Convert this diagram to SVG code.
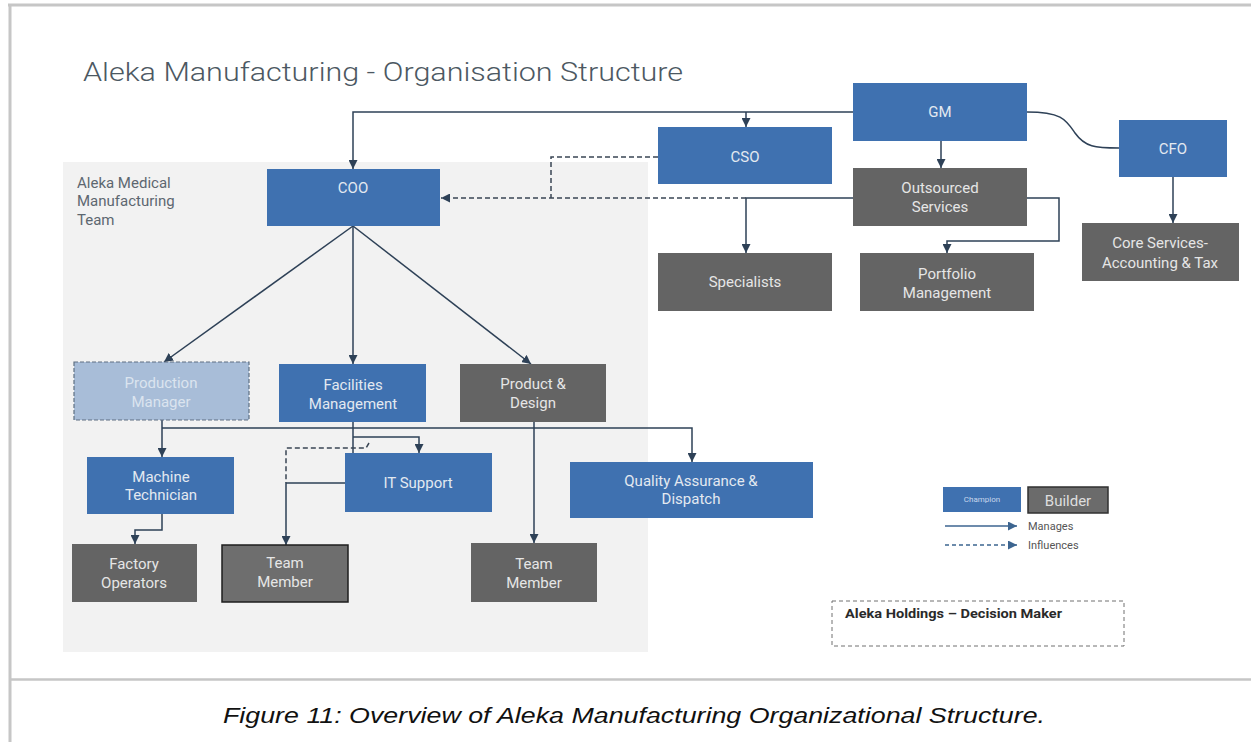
<svg xmlns="http://www.w3.org/2000/svg" width="1251" height="742" viewBox="0 0 1251 742">
<style>
.blue{fill:#3f71b0}
.gray{fill:#646464}
.t{font-family:Roboto,"Liberation Sans",sans-serif;font-size:15px;text-anchor:middle;fill:#e3e9f0}
.tg{font-family:Roboto,"Liberation Sans",sans-serif;font-size:15px;text-anchor:middle;fill:#e6e6e6}
.c{fill:none;stroke:#2e4157;stroke-width:1.5}
.d{fill:none;stroke:#3a4654;stroke-width:1.5;stroke-dasharray:5 3}
.frame{stroke:#c6c6c6;fill:none}
</style>
<defs>
<marker id="ah" viewBox="0 0 10 10" refX="10" refY="5" markerWidth="9" markerHeight="9" markerUnits="userSpaceOnUse" orient="auto">
<path d="M0,0 L10,5 L0,10 z" fill="#2e4157"/>
</marker>
<marker id="ahl" viewBox="0 0 10 10" refX="10" refY="5" markerWidth="10" markerHeight="9" markerUnits="userSpaceOnUse" orient="auto">
<path d="M0,0 L10,5 L0,10 z" fill="#3d6590"/>
</marker>
</defs>
<rect x="0" y="0" width="1251" height="742" fill="#ffffff"/>
<line class="frame" x1="8" y1="5" x2="1251" y2="5" stroke-width="3"/>
<line class="frame" x1="10" y1="5" x2="10" y2="742" stroke-width="3"/>
<line class="frame" x1="10" y1="679.5" x2="1251" y2="679.5" stroke-width="2.5"/>

<rect x="63" y="162" width="585" height="490" fill="#f2f2f2"/>

<text x="83" y="81" font-family="Roboto,'Liberation Sans',sans-serif" font-size="25" font-weight="300" fill="#4c5862" textLength="600" lengthAdjust="spacingAndGlyphs">Aleka Manufacturing  - Organisation Structure</text>

<g id="team-label" font-family="Roboto,'Liberation Sans',sans-serif" font-size="15" fill="#5d6770">
<text x="77" y="188">Aleka Medical</text>
<text x="77" y="206">Manufacturing</text>
<text x="77" y="225">Team</text>
</g>

<g id="connectors">
<path class="c" d="M853,112 H353 V169" marker-end="url(#ah)"/>
<path class="c" d="M746,112 V127" marker-end="url(#ah)"/>
<path class="c" d="M941,141 V168" marker-end="url(#ah)"/>
<path class="c" d="M1027,112 C1062,112 1066,120 1075,133 C1085,147 1095,148 1119,148"/>
<path class="c" d="M1173,177 V223" marker-end="url(#ah)"/>
<path class="c" d="M853,198 H746 V253" marker-end="url(#ah)"/>
<path class="c" d="M1027,198 H1059 V241 H947 V253" marker-end="url(#ah)"/>
<path class="d" d="M746,198 H441" marker-end="url(#ah)"/>
<path class="d" d="M658,157 H551 V198"/>
<path class="c" d="M353,226 L164,362" marker-end="url(#ah)"/>
<path class="c" d="M353,226 V364" marker-end="url(#ah)"/>
<path class="c" d="M353,226 L531,364" marker-end="url(#ah)"/>
<path class="c" d="M162,420 V457" marker-end="url(#ah)"/>
<path class="c" d="M162,428 H692 V462" marker-end="url(#ah)"/>
<path class="c" d="M162,514 V530 H135 V544" marker-end="url(#ah)"/>
<path class="c" d="M353,422 V453"/>
<path class="c" d="M353,437 H419 V453" marker-end="url(#ah)"/>
<path class="c" d="M345,483 H286 V545" marker-end="url(#ah)"/>
<path class="d" d="M369,443 L366,448 H286 V483"/>
<path class="c" d="M534,422 V543" marker-end="url(#ah)"/>
</g>

<g id="gm"><rect class="blue" x="853" y="83" width="174" height="58"/><text class="t" x="940" y="117">GM</text></g>
<g id="cso"><rect class="blue" x="658" y="127" width="174" height="57"/><text class="t" x="745" y="162">CSO</text></g>
<g id="cfo"><rect class="blue" x="1119" y="120" width="108" height="57"/><text class="t" x="1173" y="154">CFO</text></g>
<g id="outsourced"><rect class="gray" x="853" y="168" width="174" height="58"/><text class="tg" x="940" y="193">Outsourced</text><text class="tg" x="940" y="212">Services</text></g>
<g id="specialists"><rect class="gray" x="658" y="253" width="174" height="58"/><text class="tg" x="745" y="287">Specialists</text></g>
<g id="portfolio"><rect class="gray" x="860" y="253" width="174" height="58"/><text class="tg" x="947" y="279">Portfolio</text><text class="tg" x="947" y="298">Management</text></g>
<g id="core"><rect class="gray" x="1082" y="223" width="157" height="58"/><text class="tg" x="1160" y="248">Core Services-</text><text class="tg" x="1160" y="268">Accounting &amp; Tax</text></g>
<g id="coo"><rect class="blue" x="267" y="169" width="173" height="57"/><text class="t" x="353" y="193">COO</text></g>
<g id="production"><rect x="74" y="362" width="175" height="58" fill="#a8bdd8" stroke="#5e6f82" stroke-width="1.2" stroke-dasharray="4 2"/><text class="t" x="161" y="388" style="fill:#dbe4ef">Production</text><text class="t" x="161" y="407" style="fill:#dbe4ef">Manager</text></g>
<g id="facilities"><rect class="blue" x="279" y="364" width="147" height="58"/><text class="t" x="353" y="390">Facilities</text><text class="t" x="353" y="409">Management</text></g>
<g id="product"><rect class="gray" x="460" y="364" width="146" height="58"/><text class="tg" x="533" y="389">Product &amp;</text><text class="tg" x="533" y="408">Design</text></g>
<g id="machine"><rect class="blue" x="87" y="457" width="147" height="57"/><text class="t" x="161" y="482">Machine</text><text class="t" x="161" y="500">Technician</text></g>
<g id="it"><rect class="blue" x="345" y="453" width="147" height="59"/><text class="t" x="418" y="488">IT Support</text></g>
<g id="qa"><rect class="blue" x="570" y="462" width="243" height="56"/><text class="t" x="691" y="486">Quality Assurance &amp;</text><text class="t" x="691" y="504">Dispatch</text></g>
<g id="factory"><rect class="gray" x="72" y="544" width="125" height="58"/><text class="tg" x="134" y="569">Factory</text><text class="tg" x="134" y="588">Operators</text></g>
<g id="team1"><rect x="222" y="545" width="126" height="57" fill="#6e6e6e" stroke="#1e1e1e" stroke-width="1.5"/><text class="tg" x="285" y="568">Team</text><text class="tg" x="285" y="587">Member</text></g>
<g id="team2"><rect class="gray" x="471" y="543" width="126" height="59"/><text class="tg" x="534" y="569">Team</text><text class="tg" x="534" y="588">Member</text></g>

<g id="legend">
<rect class="blue" x="943" y="487" width="78" height="25"/>
<text x="982" y="502" font-family="Roboto,'Liberation Sans',sans-serif" font-size="8" text-anchor="middle" fill="#c8d7ec">Champion</text>
<rect x="1028" y="487" width="80" height="26" fill="#6b6b6b" stroke="#303030" stroke-width="1.5"/>
<text x="1068" y="506" font-family="Roboto,'Liberation Sans',sans-serif" font-size="15" text-anchor="middle" fill="#dedede">Builder</text>
<path d="M945,526 H1017" stroke="#3d6590" stroke-width="1.3" fill="none" marker-end="url(#ahl)"/>
<path d="M945,545 H1017" stroke="#3d6590" stroke-width="1.3" stroke-dasharray="4 3" fill="none" marker-end="url(#ahl)"/>
<text x="1028" y="530" font-family="Roboto,'Liberation Sans',sans-serif" font-size="11" fill="#555">Manages</text>
<text x="1028" y="549" font-family="Roboto,'Liberation Sans',sans-serif" font-size="11" fill="#555">Influences</text>
</g>

<g id="decision-maker">
<rect x="832" y="601" width="292" height="45" fill="#ffffff" stroke="#707070" stroke-width="1" stroke-dasharray="4 3"/>
<text x="845" y="618" font-family="Roboto,'Liberation Sans',sans-serif" font-size="12" font-weight="bold" fill="#2a2a2a" textLength="217" lengthAdjust="spacingAndGlyphs">Aleka Holdings – Decision Maker</text>
</g>

<text x="223" y="723" font-family="'Liberation Sans',sans-serif" font-style="italic" font-size="22" fill="#111" textLength="822" lengthAdjust="spacingAndGlyphs">Figure 11: Overview of Aleka Manufacturing Organizational Structure.</text>
</svg>
